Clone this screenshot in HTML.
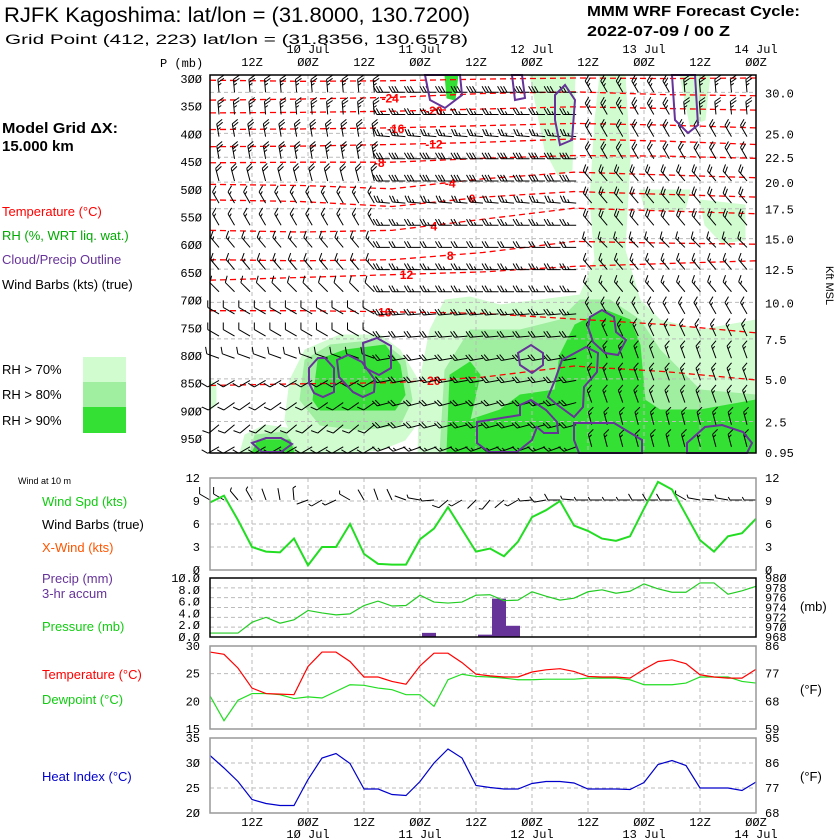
<!DOCTYPE html>
<html><head><meta charset="utf-8">
<style>
html,body{margin:0;padding:0;background:#fff;width:840px;height:840px;overflow:hidden}
svg{display:block}
text{font-family:"Liberation Sans",sans-serif}
.m{font-family:"Liberation Mono",monospace;font-size:12px}
</style></head><body>
<svg id="c" width="840" height="840" xmlns="http://www.w3.org/2000/svg">
<g>
<text x="4" y="22" font-size="21" textLength="466" lengthAdjust="spacingAndGlyphs">RJFK Kagoshima:  lat/lon = (31.8000, 130.7200)</text>
<text x="5" y="44" font-size="13.5" textLength="463" lengthAdjust="spacingAndGlyphs">Grid Point (412, 223) lat/lon = (31.8356, 130.6578)</text>
<text x="587" y="16" font-size="15" font-weight="bold" textLength="213" lengthAdjust="spacingAndGlyphs">MMM WRF Forecast Cycle:</text>
<text x="587" y="36" font-size="15" font-weight="bold" textLength="143" lengthAdjust="spacingAndGlyphs">2022-07-09 / 00  Z</text>
</g>
<g font-size="13">
<text x="2" y="133" font-size="15" font-weight="bold" textLength="116" lengthAdjust="spacingAndGlyphs">Model Grid ΔX:</text>
<text x="2" y="151" font-size="15" font-weight="bold"> 15.000 km</text>
<text x="2" y="216" fill="#f00">Temperature (°C)</text>
<text x="2" y="240" fill="#0a0">RH (%, WRT liq. wat.)</text>
<text x="2" y="264" fill="#639">Cloud/Precip Outline</text>
<text x="2" y="289" fill="#000">Wind Barbs (kts) (true)</text>
<text x="2" y="374">RH &gt; 70%</text>
<text x="2" y="399">RH &gt; 80%</text>
<text x="2" y="425">RH &gt; 90%</text>
<rect x="83" y="357" width="43" height="25" fill="#d0fcd0"/>
<rect x="83" y="382" width="43" height="25" fill="#a0eea0"/>
<rect x="83" y="407" width="43" height="26" fill="#33e033"/>
<text x="18" y="484" font-size="9">Wind at 10 m</text>
<text x="42" y="506" fill="#1c1">Wind Spd (kts)</text>
<text x="42" y="529">Wind Barbs (true)</text>
<text x="42" y="552" fill="#f50">X-Wind (kts)</text>
<text x="42" y="583" fill="#639">Precip (mm)</text>
<text x="42" y="598" fill="#639">3-hr accum</text>
<text x="42" y="631" fill="#1c1">Pressure (mb)</text>
<text x="42" y="679" fill="#f00">Temperature (°C)</text>
<text x="42" y="704" fill="#1c1">Dewpoint (°C)</text>
<text x="42" y="781" fill="#00c">Heat Index (°C)</text>
<text x="800" y="611">(mb)</text>
<text x="800" y="694">(°F)</text>
<text x="800" y="781">(°F)</text>
<text transform="translate(826,266) rotate(90)" font-size="11">Kft MSL</text>
<text x="160" y="67" class="m">P (mb)</text>
</g>
<g id="plots"></g>
</svg>
<script>
// ---------- data ----------
const hours = [3,6,9,12,15,18,21,24,27,30,33,36,39,42,45,48,51,54,57,60,63,66,69,72,75,78,81,84,87,90,93,96,99,102,105,108,111,114,117,120];
const windSpd = [8.8,9.7,6.5,3,2.4,2.3,4.1,0.6,3,3,6,2.1,0.8,0.7,0.7,4,5.4,8.2,5.3,2.4,2.8,1.8,3.7,6.9,7.8,9,5.8,5.1,4.1,3.8,4.4,8,11.5,10.5,7.2,3.9,2.4,4.4,4.8,6.7];
const windDir10 = [300,300,320,330,340,350,355,250,240,245,300,330,340,335,290,280,265,230,240,225,220,230,240,265,260,270,275,270,270,270,270,270,270,270,300,280,275,280,270,270];
const pressure = [968.8,968.8,968.8,971,972,970.8,971.5,973.4,972.9,972.5,972.7,974.4,975.3,974.3,974.4,976.5,975.1,974.9,975.1,976.5,976.6,975.4,975.5,977.2,976.3,975.5,975.9,977.2,977.6,976.9,977.3,978.8,977.8,977.1,977.1,979,979,976.7,977.4,978.3];
const precip = [0,0,0,0,0,0,0,0,0,0,0,0,0,0,0,0,0.7,0,0,0,0.4,6.5,1.9,0,0,0,0,0,0,0,0,0,0,0,0,0,0,0,0,0];
const tempC = [28.9,28.5,26,22.4,21.4,21.3,21.2,26.3,28.9,28.9,27.2,24.4,24.4,23.6,23.1,26.4,28.7,28.7,27,24.9,24.6,24.4,24.4,25.3,25.7,25.9,25.4,24.5,24.4,24.4,24.2,25.8,27.2,27.5,26.8,24.8,24.4,24.2,24.2,25.8];
const dewC = [21,16.5,20.2,21.4,21.4,21.2,20.5,20.8,20.6,21.8,23,22.9,22.4,22.1,21.2,21.2,19.1,23.9,24.9,24.5,24.4,24.2,23.9,23.9,24,24,24,24.2,24.2,24.2,23.9,23,23,23,23.3,24.4,24.4,24.4,23.6,23.3];
const heatC = [31.5,29,26.3,22.7,21.9,21.5,21.5,26.7,31,31.9,29.9,24.8,24.8,23.7,23.5,26.3,30,32.8,31,25.5,25.1,24.8,24.8,25.9,26.3,26.3,26,24.8,24.8,24.8,24.7,26.1,29.7,30.5,29.5,25,25,25,24.5,26.2];
const topTimeLabels = ["12Z","00Z","12Z","00Z","12Z","00Z","12Z","00Z","12Z","00Z"];
const dayLabels = ["10 Jul","11 Jul","12 Jul","13 Jul","14 Jul"];
const pLevels = [300,350,400,450,500,550,600,650,700,750,800,850,900,950];
const kftLabels = ["30.0","25.0","22.5","20.0","17.5","15.0","12.5","10.0","7.5","5.0","2.5","0.95"];
const kftPress = [326,400,443,488,536,590,645,705,771,843,920,975];
// upper-air barbs: per level (mb), three time segments
const barbLevels = [315,355,395,435,475,515,555,595,635,675,715,755,795,835,875,915,955];
const dirLeft  = [355,355,350,350,345,330,330,320,320,315,300,300,290,240,235,230,240];
const spdLeft  = [25,25,25,25,20,15,15,15,15,10,10,10,10,10,10,10,10];
const dirMid   = [270,270,275,270,270,275,270,270,270,270,265,265,260,260,255,255,250];
const spdMid   = [30,25,25,30,30,25,25,20,25,25,25,20,20,20,20,20,15];
const dirRight = [355,355,330,330,320,320,320,315,320,320,330,335,340,340,340,345,345];
const spdRight = [25,25,20,20,20,20,20,15,15,15,15,15,15,15,15,15,15];
// temperature contours: label, y-position anchors (pressure mb) at 7 times
const contourLabels = [-28,-24,-20,-16,-12,-8,-4,0,4,8,12,16,20];
const contourP = [
 [304,306,305,302,300,301,300],
 [340,338,335,328,325,330,332],
 [363,362,360,356,352,355,358],
 [393,392,390,386,382,385,390],
 [424,423,420,416,410,414,420],
 [453,452,452,445,440,441,445],
 [492,494,500,482,470,475,480],
 [520,523,532,515,505,510,515],
 [575,578,575,555,535,540,545],
 [628,630,628,615,595,598,600],
 [665,660,655,650,640,635,630],
 [720,720,722,725,735,745,760],
 [855,852,850,840,820,830,845]];
const contourLabelPos = [[-1,0],[0.33,-24],[0.41,-20],[0.34,-16],[0.41,-12],[0.31,-8],[0.44,-4],[0.48,0],[0.41,4],[0.44,8],[0.36,12],[0.32,16],[0.41,20]];

// ---------- helpers ----------
const NS="http://www.w3.org/2000/svg";
const root=document.getElementById('plots');
function el(tag,attrs,parent){const e=document.createElementNS(NS,tag);for(const k in attrs)e.setAttribute(k,attrs[k]);(parent||root).appendChild(e);return e;}
const X0=210,X1=756;
const xH=h=>X0+(h-3)*(X1-X0)/117;
const xI=i=>xH(hours[i]);
const yUp=p=>78+(p-300)*0.554;
const yW=v=>570-v*92/12;
const yPm=v=>637-v*5.9;
const yPr=p=>637-(p-968)*59/12;
const yT=c=>729-(c-15)*83/15;
const yHI=c=>813-(c-20)*75/15;
function line(x1,y1,x2,y2,st,g,dash,w){return el('line',{x1,y1,x2,y2,stroke:st,'stroke-width':w||1,'stroke-dasharray':dash||'none'},g);}
function txt(x,y,s,g,opt){const t=el('text',Object.assign({x,y,class:'m'},opt||{}),g);t.textContent=s;return t;}
function vgrid(g,y0,y1){for(let k=0;k<10;k++){const x=xH(12+12*k);if(x<X1-1)line(x,y0,x,y1,'#bbb',g,'4,3');}}

// ---------- upper panel ----------
const up=el('g',{});


const greens={
 light:{c:'#d0fcd0',p:[
  [[285,420],[290,380],[305,350],[340,335],[380,335],[400,350],[418,380],[420,420],[405,440],[380,450],[340,453],[300,453]],
  [[418,453],[420,380],[430,330],[445,300],[470,297],[500,305],[540,300],[580,295],[595,260],[590,200],[595,120],[600,75],[625,75],[630,160],[625,250],[640,300],[660,320],[700,330],[756,320],[756,453]],
  [[240,453],[245,435],[265,425],[300,430],[305,453]],
  [[530,75],[575,75],[572,170],[558,175],[545,150]],
  [[700,200],[745,205],[745,240],[722,243],[705,225]],
  [[640,190],[690,190],[685,210],[645,210]],
  [[680,75],[710,75],[705,120],[690,125]],
  [[210,380],[216,385],[216,405],[210,410]]]},
 mid:{c:'#a0eea0',p:[
  [[300,400],[305,360],[330,345],[380,340],[405,360],[412,400],[400,425],[360,430],[320,425]],
  [[440,453],[445,370],[470,330],[520,330],[560,320],[580,300],[610,300],[640,320],[660,350],[700,390],[756,395],[756,453]],
  [[250,453],[255,435],[285,432],[298,453]]]},
 dark:{c:'#33e033',p:[
  [[313,400],[318,360],[345,350],[385,345],[400,365],[405,395],[395,410],[350,410],[320,410]],
  [[447,453],[450,375],[470,362],[480,375],[470,420],[500,410],[520,395],[555,390],[560,355],[575,325],[605,310],[630,320],[640,345],[645,400],[660,410],[700,410],[756,400],[756,453]],
  [[252,453],[258,440],[290,440],[294,453]],
  [[445,75],[458,75],[455,100],[447,98]]]}};
for(const k of ['light','mid','dark']){greens[k].p.forEach((pts,j)=>{const e=el('polygon',{points:pts.map(q=>q.join(',')).join(' '),fill:greens[k].c,'stroke':greens[k].c,'stroke-width':1,'stroke-linejoin':'round'},up);
 
 });}
vgrid(up,75,453);
kftPress.forEach((p,i)=>{if(i<kftPress.length-1)line(X0,yUp(p),X1,yUp(p),'#bbb',up,'4,3');
 const t=txt(765,yUp(p)+5,kftLabels[i],up);});
pLevels.forEach(p=>{const t=txt(202,yUp(p)+5,String(p).replace(/0/g,'Ø'),up,{'text-anchor':'end'});});
// contours
const cx7=[0,1,2,3,4,5,6].map(k=>X0+k*(X1-X0)/6);
contourP.forEach((ps,j)=>{const pts=ps.map((p,k)=>cx7[k]+','+yUp(p)).join(' ');
 const e=el('polyline',{points:pts,fill:'none',stroke:'#f00','stroke-width':1.3,'stroke-dasharray':'6,4'},up);
 
 
 const lp=contourLabelPos[j];if(lp[0]>=0){const xx=X0+lp[0]*(X1-X0);const seg=Math.min(5,Math.floor(lp[0]*6));const f=lp[0]*6-seg;const p=ps[seg]+(ps[seg+1]-ps[seg])*f;
  const t=el('text',{x:xx,y:yUp(p)+5,fill:'#f00','font-size':12,'font-weight':'bold','text-anchor':'middle'},up);t.textContent=String(contourLabels[j]);
  
  }});
// barbs
function barb(g,x,y,dir,spd,L){const r=dir*Math.PI/180;const sx=Math.sin(r),sy=-Math.cos(r);const px=-sy,py=sx;
 const ex=x+sx*L,ey=y+sy*L;let d='M'+x+' '+y+'L'+ex+' '+ey;let n=Math.round(spd/5);let pos=0;
 while(n>0){const bx=ex-sx*pos*3,by=ey-sy*pos*3;const len=n>=2?7:3.5;d+='M'+bx+' '+by+'L'+(bx+(px*0.87+sx*0.5)*len)+' '+(by+(py*0.87+sy*0.5)*len);n-=2;pos++;}
 const e=el('path',{d,stroke:'#000','stroke-width':1,fill:'none'},g);
 
 }
const nCols=35;
for(let c=0;c<nCols;c++){const x=X0+9+c*(X1-X0-18)/(nCols-1);
 const seg=c<11?0:(c<24?1:2);
 barbLevels.forEach((p,k)=>{let d=[dirLeft,dirMid,dirRight][seg][k];const s=[spdLeft,spdMid,spdRight][seg][k];
  if(seg===2&&k<2&&c<30)d=330;
  barb(up,x,yUp(p)+6,d,s,13);});}
// cloud outlines
const clouds=[
 [[309,368],[318,358],[325,358],[334,368],[334,392],[323,397],[314,393],[309,383]],
 [[337,360],[348,355],[362,362],[375,380],[374,392],[363,397],[353,392],[339,377]],
 [[363,343],[377,338],[391,346],[391,368],[379,375],[365,368]],
 [[518,353],[531,345],[543,353],[543,365],[532,373],[520,365]],
 [[590,317],[602,310],[614,317],[616,332],[626,340],[618,355],[605,353],[593,342],[588,327]],
 [[562,360],[586,347],[598,353],[597,372],[584,387],[583,407],[574,417],[555,403],[548,397],[555,380]],
 [[477,422],[520,415],[520,405],[531,400],[546,410],[557,422],[558,433],[544,433],[537,427],[532,440],[517,452],[489,452],[477,443]],
 [[574,423],[614,423],[642,440],[642,453],[579,453],[574,440]],
 [[687,443],[705,427],[722,425],[743,432],[752,443],[747,453],[687,453]],
 [[252,443],[266,438],[281,438],[292,444],[281,452],[262,452]],
 [[425,75],[460,75],[462,95],[445,108],[430,100]],
 [[555,95],[565,85],[575,100],[572,140],[560,145],[555,120]],
 [[672,75],[695,75],[698,125],[688,133],[675,120]],
 [[512,75],[522,75],[525,98],[515,100]]];
clouds.forEach(pts=>{const e=el('polygon',{points:pts.map(q=>q.join(',')).join(' '),fill:'none',stroke:'#639','stroke-width':2},up);
 
 });
el('rect',{x:X0,y:75,width:X1-X0,height:378,fill:'none',stroke:'#000','stroke-width':1.5},up);
// top time labels
topTimeLabels.forEach((s,k)=>{const t=txt(xH(12+12*k),66,s.replace(/0/g,'Ø'),up,{'text-anchor':'middle'});});
dayLabels.forEach((s,k)=>{const t=txt(xH(24+24*k),53,s.replace(/0/g,'Ø'),up,{'text-anchor':'middle'});});

// ---------- lower panels ----------
function panel(name,y0,y1){const g=el('g',{});
 vgrid(g,y0,y1);return g;}
function frame(g,y0,y1,col){el('rect',{x:X0,y:y0,width:X1-X0,height:y1-y0,fill:'none',stroke:col,'stroke-width':1.5},g);}
function series(g,arr,yf,col,w,name){const e=el('polyline',{points:arr.map((v,i)=>xI(i)+','+yf(v)).join(' '),fill:'none',stroke:col,'stroke-width':w},g);
 
 }
// wind
const gw=panel('wind-panel',478,570);
[3,6,9].forEach(v=>line(X0,yW(v),X1,yW(v),'#bbb',gw,'4,3'));
[0,3,6,9,12].forEach(v=>{txt(200,yW(v)+4,String(v).replace('0','Ø'),gw,{'text-anchor':'end','font-size':10});txt(765,yW(v)+4,String(v).replace('0','Ø'),gw,{'font-size':10});});
windSpd.forEach((v,i)=>barb(gw,xI(i),500,windDir10[i],v,12));
series(gw,windSpd,yW,'#2d2',2,'wind-speed-line');
frame(gw,478,570,'#999');
// precip/pressure
const gp=panel('precip-pressure-panel',578,637);
[970,972,974,976,978].forEach(p=>{line(X0,yPr(p),X1,yPr(p),'#bbb',gp,'4,3');});
[0,2,4,6,8,10].forEach(v=>txt(200,yPm(v)+4,v.toFixed(1).replace(/0/g,'Ø'),gp,{'text-anchor':'end','font-size':10}));
[968,970,972,974,976,978,980].forEach(p=>txt(765,yPr(p)+4,String(p).replace(/0/g,'Ø'),gp,{'font-size':10}));
precip.forEach((v,i)=>{if(v>0){const r=el('rect',{x:xI(i-1)+2,y:yPm(v),width:xI(i)-xI(i-1),height:637-yPm(v),fill:'#639'},gp);
 
 }});
series(gp,pressure,yPr,'#2c2',1.2,'pressure-line');
frame(gp,578,637,'#000');
// temperature
const gt=panel('temperature-panel',646,729);
[20,25].forEach(c=>line(X0,yT(c),X1,yT(c),'#bbb',gt,'4,3'));
[15,20,25,30].forEach(c=>txt(200,yT(c)+4,String(c),gt,{'text-anchor':'end','font-size':10}));
[59,68,77,86].forEach(f=>txt(765,yT((f-32)*5/9)+4,String(f),gt,{'font-size':10}));
series(gt,dewC,yT,'#2d2',1.2,'dewpoint-line');
series(gt,tempC,yT,'#f00',1.2,'temperature-line');
frame(gt,646,729,'#999');
// heat index
const gh=panel('heat-index-panel',738,813);
[25,30].forEach(c=>line(X0,yHI(c),X1,yHI(c),'#bbb',gh,'4,3'));
[20,25,30,35].forEach(c=>txt(200,yHI(c)+4,String(c).replace('0','Ø'),gh,{'text-anchor':'end','font-size':10}));
[68,77,86,95].forEach(f=>txt(765,yHI((f-32)*5/9)+4,String(f),gh,{'font-size':10}));
series(gh,heatC,yHI,'#00c',1.2,'heat-index-line');
frame(gh,738,813,'#999');
topTimeLabels.forEach((s,k)=>{const t=txt(xH(12+12*k),826,s.replace(/0/g,'Ø'),gh,{'text-anchor':'middle'});});
dayLabels.forEach((s,k)=>{const t=txt(xH(24+24*k),838,s.replace(/0/g,'Ø'),gh,{'text-anchor':'middle'});});
</script>
</body></html>
